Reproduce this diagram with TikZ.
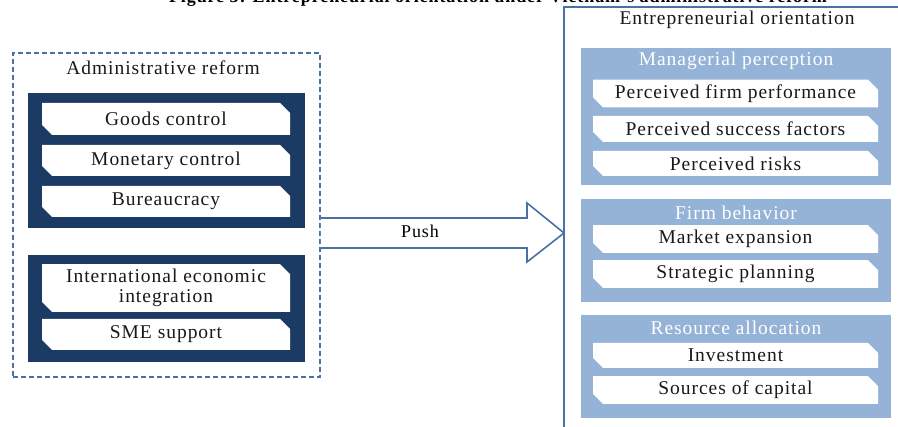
\documentclass[tikz,border=0pt]{standalone}
\usepackage{fontspec}
\setmainfont{Liberation Serif}[LetterSpace=5]
\usetikzlibrary{shapes.misc,calc}
\definecolor{navy}{HTML}{1B3A64}
\definecolor{lblue}{HTML}{95B3D7}
\definecolor{edge}{HTML}{4A71A3}
\tikzset{
  txt/.style={font=\fontsize{19.5}{21}\selectfont, text=black!90},
  wbox/.style={chamfered rectangle, chamfered rectangle corners={north east,south west},
    chamfered rectangle xsep=5pt, chamfered rectangle ysep=5pt,
    fill=white, draw=none, inner sep=0pt, minimum width=#1, txt, align=center},
  wbox/.default=248pt,
  navybox/.style={fill=navy, draw=none, minimum width=277pt, inner sep=0pt},
  panel/.style={fill=lblue, draw=none, minimum width=310pt, inner sep=0pt},
  ptitle/.style={font=\fontsize{19.5}{21}\selectfont, text=white, inner sep=0pt},
}
\begin{document}
\begin{tikzpicture}[x=1pt,y=-1pt]
\useasboundingbox (0,0) rectangle (898,427);
\clip (0,0) rectangle (898,427);
% title (cut off at top, as in the reference)
\node[anchor=base, font=\bfseries\fontsize{18}{20}\selectfont, inner sep=0pt] (fig) at (498,3)
  {Figure 3: Entrepreneurial orientation under Vietnam's administrative reform};
% left dashed box
\node[draw=edge, dash pattern=on 5pt off 3pt, line width=1.6pt, minimum width=307pt, minimum height=324pt, inner sep=0pt] (dashbox) at (166.5,215) {};
\node[txt, inner sep=0pt] (admin) at (163,68) {Administrative reform};
\node[navybox, minimum height=135pt] (nb1) at (166.5,160.5) {};
\node[navybox, minimum height=107pt] (nb2) at (166.5,308.5) {};
\node[wbox, minimum height=32pt] (goods) at (166,119) {Goods control};
\node[wbox, minimum height=31pt] (monetary) at (166,160.5) {Monetary control};
\node[wbox, minimum height=31pt] (bureau) at (166,201.5) {Bureaucracy};
\node[wbox, minimum height=44pt, font=\fontsize{19.5}{20}\selectfont] (intl) at (166,288) {International economic\\integration};
\node[wbox, minimum height=31pt] (sme) at (166,334.5) {SME support};
% right box
\coordinate (rbtl) at (564,7);
\draw[edge, line width=1.8pt] (rbtl |- 0,440) -- (rbtl) -- (910,7);
\node[txt, inner sep=0pt] (eo) at (737,20) {Entrepreneurial orientation};
% panels
\node[panel, minimum height=137pt] (mp) at (736,116.5) {};
\node[ptitle] (mpt) at (736,61) {Managerial perception};
\node[wbox=285pt, minimum height=25pt] (pfp) at (735.5,93.5) {Perceived firm performance};
\node[wbox=285pt, minimum height=26pt] (psf) at (735.5,129) {Perceived success factors};
\node[wbox=285pt, minimum height=25pt] (pr) at (735.5,163.5) {Perceived risks};
\node[panel, minimum height=103pt] (fb) at (736,250.5) {};
\node[ptitle] (fbt) at (736,213) {Firm behavior};
\node[wbox=285pt, minimum height=26pt] (me) at (735.5,239) {Market expansion};
\node[wbox=285pt, minimum height=26pt] (sp) at (735.5,274) {Strategic planning};
\node[panel, minimum height=103pt] (ra) at (736,366.5) {};
\node[ptitle] (rat) at (736,328) {Resource allocation};
\node[wbox=285pt, minimum height=25pt] (inv) at (735.5,355.5) {Investment};
\node[wbox=285pt, minimum height=26pt] (soc) at (735.5,390) {Sources of capital};
% push arrow
\coordinate (ps) at (dashbox.east |- 0,233);
\coordinate (pt) at (rbtl |- 0,233);
\fill[white] ($(ps)+(0,-15)$) -- ($(pt)+(-37,-15)$) -- ($(pt)+(-37,-30)$) -- (pt) -- ($(pt)+(-37,29)$) -- ($(pt)+(-37,15)$) -- ($(ps)+(0,15)$) -- cycle;
\draw[edge, line width=1.6pt, line join=miter] ($(ps)+(0,-15)$) -- ($(pt)+(-37,-15)$) -- ($(pt)+(-37,-30)$) -- (pt) -- ($(pt)+(-37,29)$) -- ($(pt)+(-37,15)$) -- ($(ps)+(0,15)$);
\node[font=\fontsize{18}{20}\selectfont, inner sep=0pt] (push) at (420,231) {Push};
\end{tikzpicture}
\end{document}
